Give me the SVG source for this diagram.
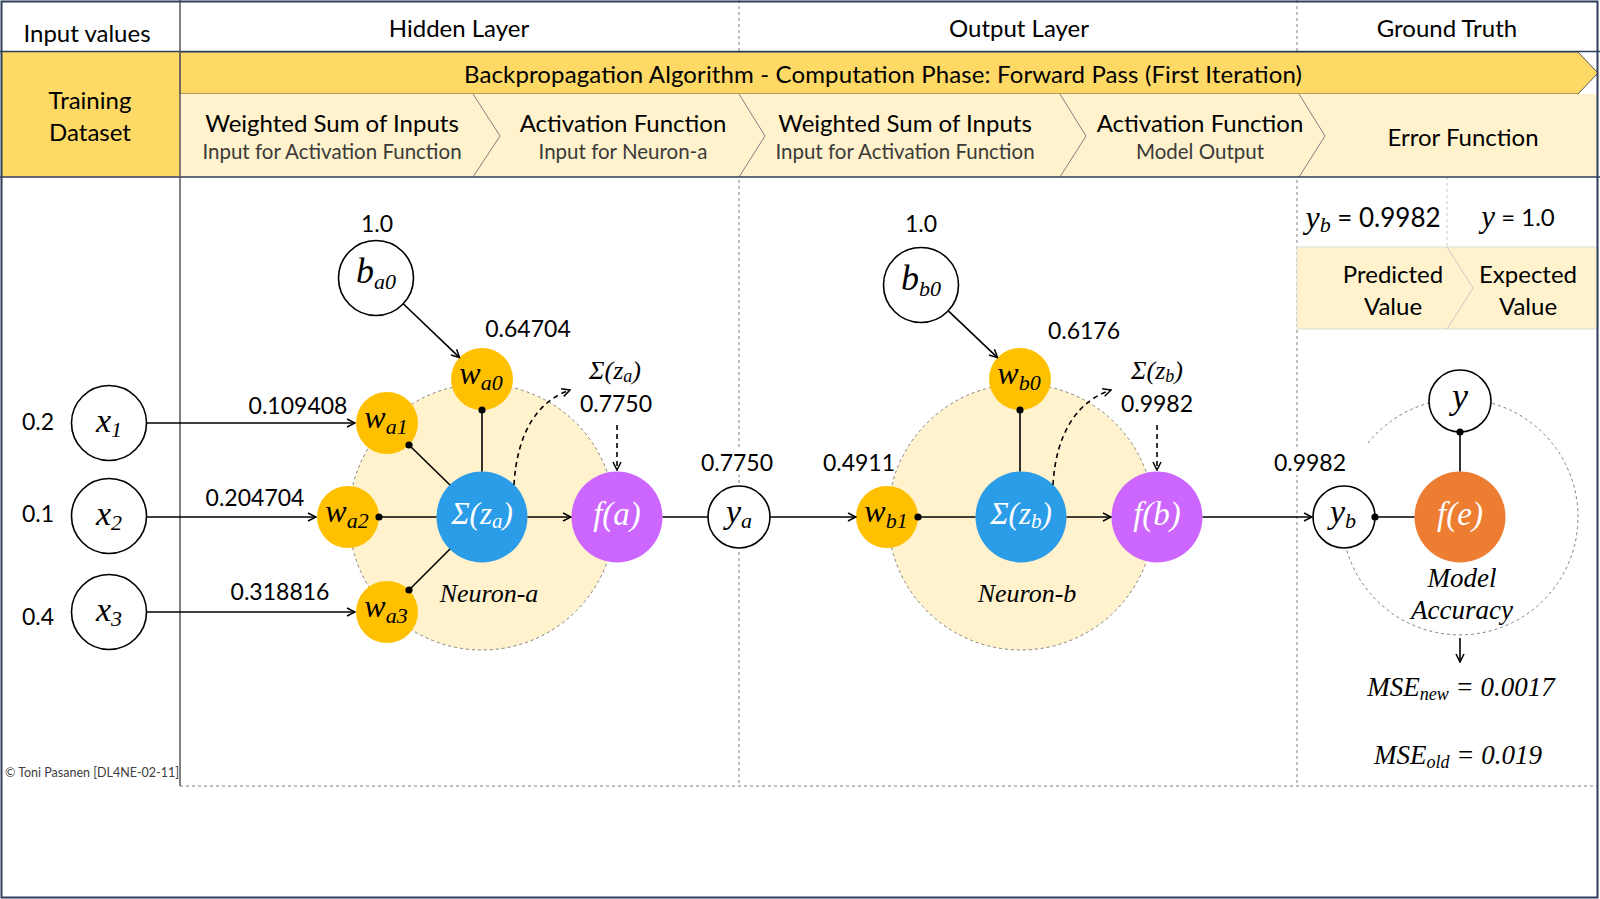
<svg xmlns="http://www.w3.org/2000/svg" width="1600" height="899" viewBox="0 0 1600 899">
<style>
.t{font-family:Lato,"Open Sans","Liberation Sans",sans-serif;font-size:24px;fill:#000;dominant-baseline:central;text-anchor:middle}
.n{font-size:23px}
.s{font-size:20.5px;fill:#3a3a3a}
.m{font-family:"Liberation Serif","DejaVu Serif",serif;font-style:italic;fill:#000;dominant-baseline:central;text-anchor:middle}
.w{fill:#fff}
.sub{font-size:22px}
.halo{stroke:#fff;stroke-width:8;paint-order:stroke;stroke-linejoin:round}
.gold{fill:#FFC000}
.blue{fill:#2B9CE8}
.purple{fill:#CC66FF}
.orange{fill:#ED7D31}
.open{fill:#fff;stroke:#000;stroke-width:1.6}
.neuron{fill:#FFF2CC;stroke:#808080;stroke-width:1;stroke-dasharray:3 3}
.c{fill:none;stroke:#000;stroke-width:1.6}
.a{marker-end:url(#arr)}
.d{marker-start:url(#dot)}
.dash{stroke-dasharray:5 4}
.grid{stroke:#808080;stroke-width:1;stroke-dasharray:3 3;fill:none}
.copy{font-size:12.5px;fill:#404040}
</style>
<defs>
<marker id="arr" viewBox="0 0 10 10" refX="9" refY="5" markerWidth="10" markerHeight="10" markerUnits="userSpaceOnUse" orient="auto"><path d="M1,1 L9,5 L1,9" fill="none" stroke="#000" stroke-width="1.5"/></marker>
<marker id="dot" viewBox="0 0 8 8" refX="4" refY="4" markerWidth="8" markerHeight="8" markerUnits="userSpaceOnUse"><circle cx="4" cy="4" r="3.6" fill="#000"/></marker>
</defs>
<rect x="0" y="0" width="1600" height="899" fill="#fff"/>
<g id="frame">
<line x1="739" y1="0" x2="739" y2="786" class="grid"/>
<line x1="1297" y1="0" x2="1297" y2="786" class="grid"/>
<line x1="180" y1="786" x2="1598" y2="786" class="grid"/>
<line x1="1447" y1="177" x2="1447" y2="247" stroke="#C8C8C8" stroke-width="1" stroke-dasharray="3 3"/>
<rect x="2" y="52" width="178" height="125" fill="#FFD966"/>
<path d="M180,52 L1578,52 L1598,73 L1578,94 L180,94 Z" fill="#FFD966" stroke="#5a5a5a" stroke-width="1"/>
<rect x="180" y="94" width="1418" height="83" fill="#FFF2CC"/>
<path d="M473,94 L500,136 L473,177 M739,94 L765,136 L739,177 M1060,94 L1086,136 L1060,177 M1299,94 L1325,136 L1299,177" fill="none" stroke="#808080" stroke-width="1"/>
<line x1="0" y1="51.5" x2="1600" y2="51.5" stroke="#2F3E5C" stroke-width="1.5"/>
<line x1="0" y1="177" x2="1600" y2="177" stroke="#2F3E5C" stroke-width="1.5"/>
<line x1="180" y1="0" x2="180" y2="786" stroke="#595959" stroke-width="1.5"/>
<rect x="1297" y="247" width="301" height="82" fill="#FFF2CC" stroke="#DDDDDD" stroke-width="1"/>
<path d="M1447,247 L1473,288 L1447,329" fill="none" stroke="#C8C8C8" stroke-width="1"/>
<rect x="1.5" y="1.5" width="1596" height="896" fill="none" stroke="#2F3E5C" stroke-width="2"/>
</g>
<g id="headers">
<text class="t" x="87" y="32">Input values</text>
<text class="t" x="459" y="27">Hidden Layer</text>
<text class="t" x="1019" y="27">Output Layer</text>
<text class="t" x="1447" y="27">Ground Truth</text>
<text class="t" x="883" y="73" textLength="838" lengthAdjust="spacing">Backpropagation Algorithm - Computation Phase: Forward Pass (First Iteration)</text>
<text class="t" x="90" y="99">Training</text>
<text class="t" x="90" y="131">Dataset</text>
<text class="t" x="332" y="122">Weighted Sum of Inputs</text>
<text class="t s" x="332" y="151">Input for Activation Function</text>
<text class="t" x="623" y="122">Activation Function</text>
<text class="t s" x="623" y="151">Input for Neuron-a</text>
<text class="t" x="905" y="122">Weighted Sum of Inputs</text>
<text class="t s" x="905" y="151">Input for Activation Function</text>
<text class="t" x="1200" y="122">Activation Function</text>
<text class="t s" x="1200" y="151">Model Output</text>
<text class="t" x="1463" y="136">Error Function</text>
<text class="t" x="1373" y="217" style="font-size:26px"><tspan class="m" font-size="32">y</tspan><tspan class="m" font-size="22" dy="7">b</tspan><tspan dy="-7"> = 0.9982</tspan></text>
<text class="t" x="1518" y="216"><tspan class="m" font-size="31">y</tspan> = 1.0</text>
<text class="t" x="1393" y="273">Predicted</text>
<text class="t" x="1393" y="305">Value</text>
<text class="t" x="1528" y="273">Expected</text>
<text class="t" x="1528" y="305">Value</text>
<text class="t copy" x="92" y="772">© Toni Pasanen [DL4NE-02-11]</text>
</g>
<g id="neuron-a"><circle cx="482" cy="517" r="133" class="neuron"/><text class="m" x="489" y="593" font-size="26">Neuron-a</text></g>
<g id="neuron-b"><circle cx="1021" cy="517" r="133" class="neuron"/><text class="m" x="1027" y="593" font-size="26">Neuron-b</text></g>
<g id="model-accuracy"><path d="M1368,443 A118,118 0 1 1 1342,517" fill="none" stroke="#808080" stroke-width="1" stroke-dasharray="3 3"/><text class="m" x="1462" y="578" font-size="27">Model</text><text class="m" x="1462" y="610" font-size="27">Accuracy</text></g>
<g id="x1"><text class="t n" x="38" y="421">0.2</text><circle cx="109" cy="423" r="37.5" class="open"/><text class="m" x="109" y="420" font-size="34">x<tspan class="sub" dy="9">1</tspan></text></g>
<g id="x2"><text class="t n" x="38" y="513">0.1</text><circle cx="109" cy="516" r="37.5" class="open"/><text class="m" x="109" y="513" font-size="34">x<tspan class="sub" dy="9">2</tspan></text></g>
<g id="x3"><text class="t n" x="38" y="616">0.4</text><circle cx="109" cy="612" r="37.5" class="open"/><text class="m" x="109" y="609" font-size="34">x<tspan class="sub" dy="9">3</tspan></text></g>
<g id="b_a0"><text class="t n" x="377" y="223">1.0</text><circle cx="376" cy="278" r="37.5" class="open"/><text class="m" x="376" y="271" font-size="36">b<tspan class="sub" dy="10">a0</tspan></text></g>
<g id="w_a0"><text class="t n" x="528" y="328">0.64704</text><circle cx="482" cy="379" r="31" class="gold"/><text class="m" x="481" y="373" font-size="32">w<tspan class="sub" dy="9">a0</tspan></text></g>
<g id="w_a1"><text class="t n" x="298" y="405">0.109408</text><circle cx="387" cy="423" r="31" class="gold"/><text class="m" x="386" y="417" font-size="32">w<tspan class="sub" dy="9">a1</tspan></text></g>
<g id="w_a2"><text class="t n" x="255" y="497">0.204704</text><circle cx="348" cy="517" r="31" class="gold"/><text class="m" x="347" y="511" font-size="32">w<tspan class="sub" dy="9">a2</tspan></text></g>
<g id="w_a3"><text class="t n" x="280" y="591">0.318816</text><circle cx="387" cy="612" r="31" class="gold"/><text class="m" x="386" y="606" font-size="32">w<tspan class="sub" dy="9">a3</tspan></text></g>
<g id="sum_a"><circle cx="482" cy="517" r="45.5" class="blue"/><text class="m w" x="482" y="513" font-size="31">Σ(z<tspan font-size="21" dy="8">a</tspan><tspan dy="-8">)</tspan></text></g>
<g id="f_a"><text class="m" x="615" y="370" font-size="26">Σ(z<tspan font-size="18" dy="6">a</tspan><tspan dy="-6">)</tspan></text><text class="t n" x="616" y="403">0.7750</text><circle cx="617" cy="517" r="45.5" class="purple"/><text class="m w" x="617" y="514" font-size="33">f(a)</text></g>
<g id="y_a"><text class="t n halo" x="737" y="462">0.7750</text><circle cx="739" cy="517" r="31" class="open"/><text class="m" x="739" y="511" font-size="34">y<tspan class="sub" dy="9">a</tspan></text></g>
<g id="w_b1"><text class="t n" x="859" y="462">0.4911</text><circle cx="887" cy="517" r="31" class="gold"/><text class="m" x="886" y="511" font-size="32">w<tspan class="sub" dy="9">b1</tspan></text></g>
<g id="b_b0"><text class="t n" x="921" y="223">1.0</text><circle cx="921" cy="285" r="37.5" class="open"/><text class="m" x="921" y="278" font-size="36">b<tspan class="sub" dy="10">b0</tspan></text></g>
<g id="w_b0"><text class="t n" x="1084" y="330">0.6176</text><circle cx="1020" cy="379" r="31" class="gold"/><text class="m" x="1019" y="373" font-size="32">w<tspan class="sub" dy="9">b0</tspan></text></g>
<g id="sum_b"><circle cx="1021" cy="517" r="45.5" class="blue"/><text class="m w" x="1021" y="513" font-size="31">Σ(z<tspan font-size="21" dy="8">b</tspan><tspan dy="-8">)</tspan></text></g>
<g id="f_b"><text class="m" x="1157" y="370" font-size="26">Σ(z<tspan font-size="18" dy="6">b</tspan><tspan dy="-6">)</tspan></text><text class="t n" x="1157" y="403">0.9982</text><circle cx="1157" cy="517" r="45.5" class="purple"/><text class="m w" x="1157" y="514" font-size="33">f(b)</text></g>
<g id="y_b"><text class="t n halo" x="1310" y="462">0.9982</text><circle cx="1344" cy="517" r="31" class="open"/><text class="m" x="1343" y="511" font-size="34">y<tspan class="sub" dy="9">b</tspan></text></g>
<g id="y"><circle cx="1460" cy="401" r="31" class="open"/><text class="m" x="1460" y="396" font-size="36">y</text></g>
<g id="f_e"><circle cx="1460" cy="517" r="45.5" class="orange"/><text class="m w" x="1460" y="514" font-size="33">f(e)</text></g>
<g id="mse"><text class="m" x="1461" y="687" font-size="27">MSE<tspan font-size="18" dy="7">new</tspan><tspan dy="-7"> = 0.0017</tspan></text><text class="m" x="1458" y="755" font-size="27">MSE<tspan font-size="18" dy="7">old</tspan><tspan dy="-7"> = 0.019</tspan></text></g>
<g id="connectors">
<path class="c a" d="M147,423 L355,423"/>
<path class="c a" d="M147,517 L316,517"/>
<path class="c a" d="M147,612 L355,612"/>
<path class="c a" d="M403.5,304 L459.6,357.6"/>
<path class="c d" d="M482,410 L482,471.5"/>
<path class="c d" d="M409,445 L450,485"/>
<path class="c d" d="M379,517 L436.5,517"/>
<path class="c d" d="M409,590 L450,549"/>
<path class="c a" d="M527.5,517 L571,517"/>
<path class="c" d="M662.5,517 L708,517"/>
<path class="c a" d="M770,517 L856,517"/>
<path class="c d" d="M918,517 L975.5,517"/>
<path class="c a" d="M948.6,311.2 L997.5,357.6"/>
<path class="c d" d="M1020,410 L1020,471.5"/>
<path class="c a" d="M1066.5,517 L1111,517"/>
<path class="c a" d="M1202.5,517 L1312,517"/>
<path class="c d" d="M1375,517 L1414.5,517"/>
<path class="c d" d="M1460,432 L1460,471.5"/>
<path class="c a dash" d="M514,485 C517,432 538,401 570,390"/>
<path class="c a dash" d="M617,425 L617,470"/>
<path class="c a dash" d="M1053,485 C1056,432 1078,401 1111,390"/>
<path class="c a dash" d="M1157,425 L1157,470"/>
<path class="c a" d="M1460,638 L1460,662"/>
</g>
</svg>
